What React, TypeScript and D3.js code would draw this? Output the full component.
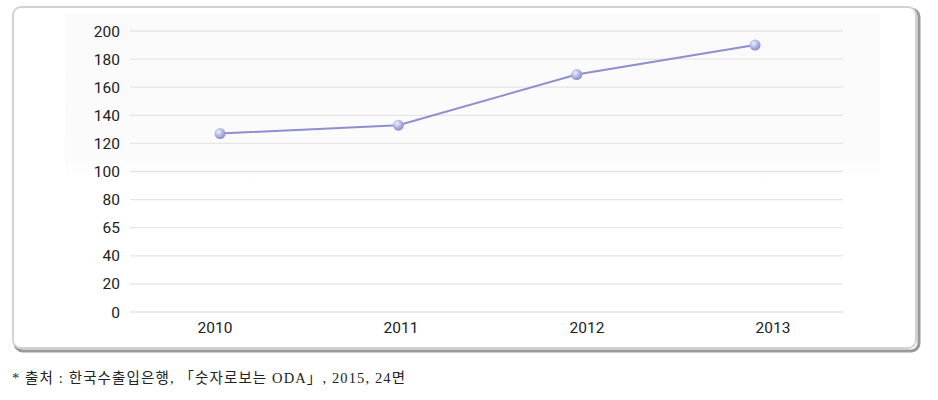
import React from "react";
import * as d3 from "d3";

const years = ["2010", "2011", "2012", "2013"];
const values = [127, 133, 169, 190];
const yTickValues = [0, 20, 40, 60, 80, 100, 120, 140, 160, 180, 200];
const yTickLabels = ["0", "20", "40", "65", "80", "100", "120", "140", "160", "180", "200"];
const footnote = "* 출처 : 한국수출입은행, 「숫자로보는 ODA」, 2015, 24면";

export default function App() {
  const W = 938, H = 400;
  const y = d3.scaleLinear().domain([0, 200]).range([312, 31]);
  const xLabel = d3.scalePoint().domain(years).range([215, 773]);
  const xPoint = d3.scalePoint().domain(years).range([220, 755]);
  const line = d3.line<number>()
    .x((_, i) => xPoint(years[i]) as number)
    .y((d) => y(d));
  return (
    <svg width={W} height={H} style={{ position: "absolute", left: 0, top: 0, background: "#fff" }}>
      <defs>
        <radialGradient id="dot" cx="0.38" cy="0.35" r="0.7">
          <stop offset="0" stopColor="#eef0fb" />
          <stop offset="0.45" stopColor="#b9bde6" />
          <stop offset="1" stopColor="#8387c4" />
        </radialGradient>
        <linearGradient id="panel" x1="0" y1="0" x2="0" y2="1">
          <stop offset="0" stopColor="#fafafa" />
          <stop offset="0.85" stopColor="#fbfbfb" />
          <stop offset="1" stopColor="#ffffff" />
        </linearGradient>
      </defs>
      <rect x={15} y={9} width={904} height={342} rx={8} fill="none" stroke="#9a9a9a" strokeWidth={3} />
      <rect x={13} y={7} width={903} height={341} rx={8} fill="#fff" stroke="#d2d2d2" strokeWidth={2} />
      <rect x={65} y={14} width={815} height={168} fill="url(#panel)" />
      {yTickValues.map((v, i) => (
        <g key={v}>
          <line x1={130} x2={843} y1={y(v)} y2={y(v)} stroke="#e6e6e6" strokeWidth={1.3} />
          <text x={120} y={y(v)} dy="0.36em" textAnchor="end" fontFamily="Roboto, sans-serif" fontSize={15.5} fill="#222">
            {yTickLabels[i]}
          </text>
        </g>
      ))}
      {years.map((yr) => (
        <text key={yr} x={xLabel(yr)} y={327} dy="0.36em" textAnchor="middle" fontFamily="Roboto, sans-serif" fontSize={15.5} fill="#222">
          {yr}
        </text>
      ))}
      <path d={line(values) || ""} fill="none" stroke="#8e8fce" strokeWidth={2} />
      {values.map((v, i) => (
        <circle key={i} cx={xPoint(years[i])} cy={y(v)} r={5.5} fill="url(#dot)" />
      ))}
      <text x={12} y={378} dy="0.36em" fontFamily="'Liberation Serif', 'DejaVu Serif', 'Noto Sans CJK KR', serif" fontSize={14.5} fill="#222" textLength={393} lengthAdjust="spacing">
        {footnote}
      </text>
    </svg>
  );
}
